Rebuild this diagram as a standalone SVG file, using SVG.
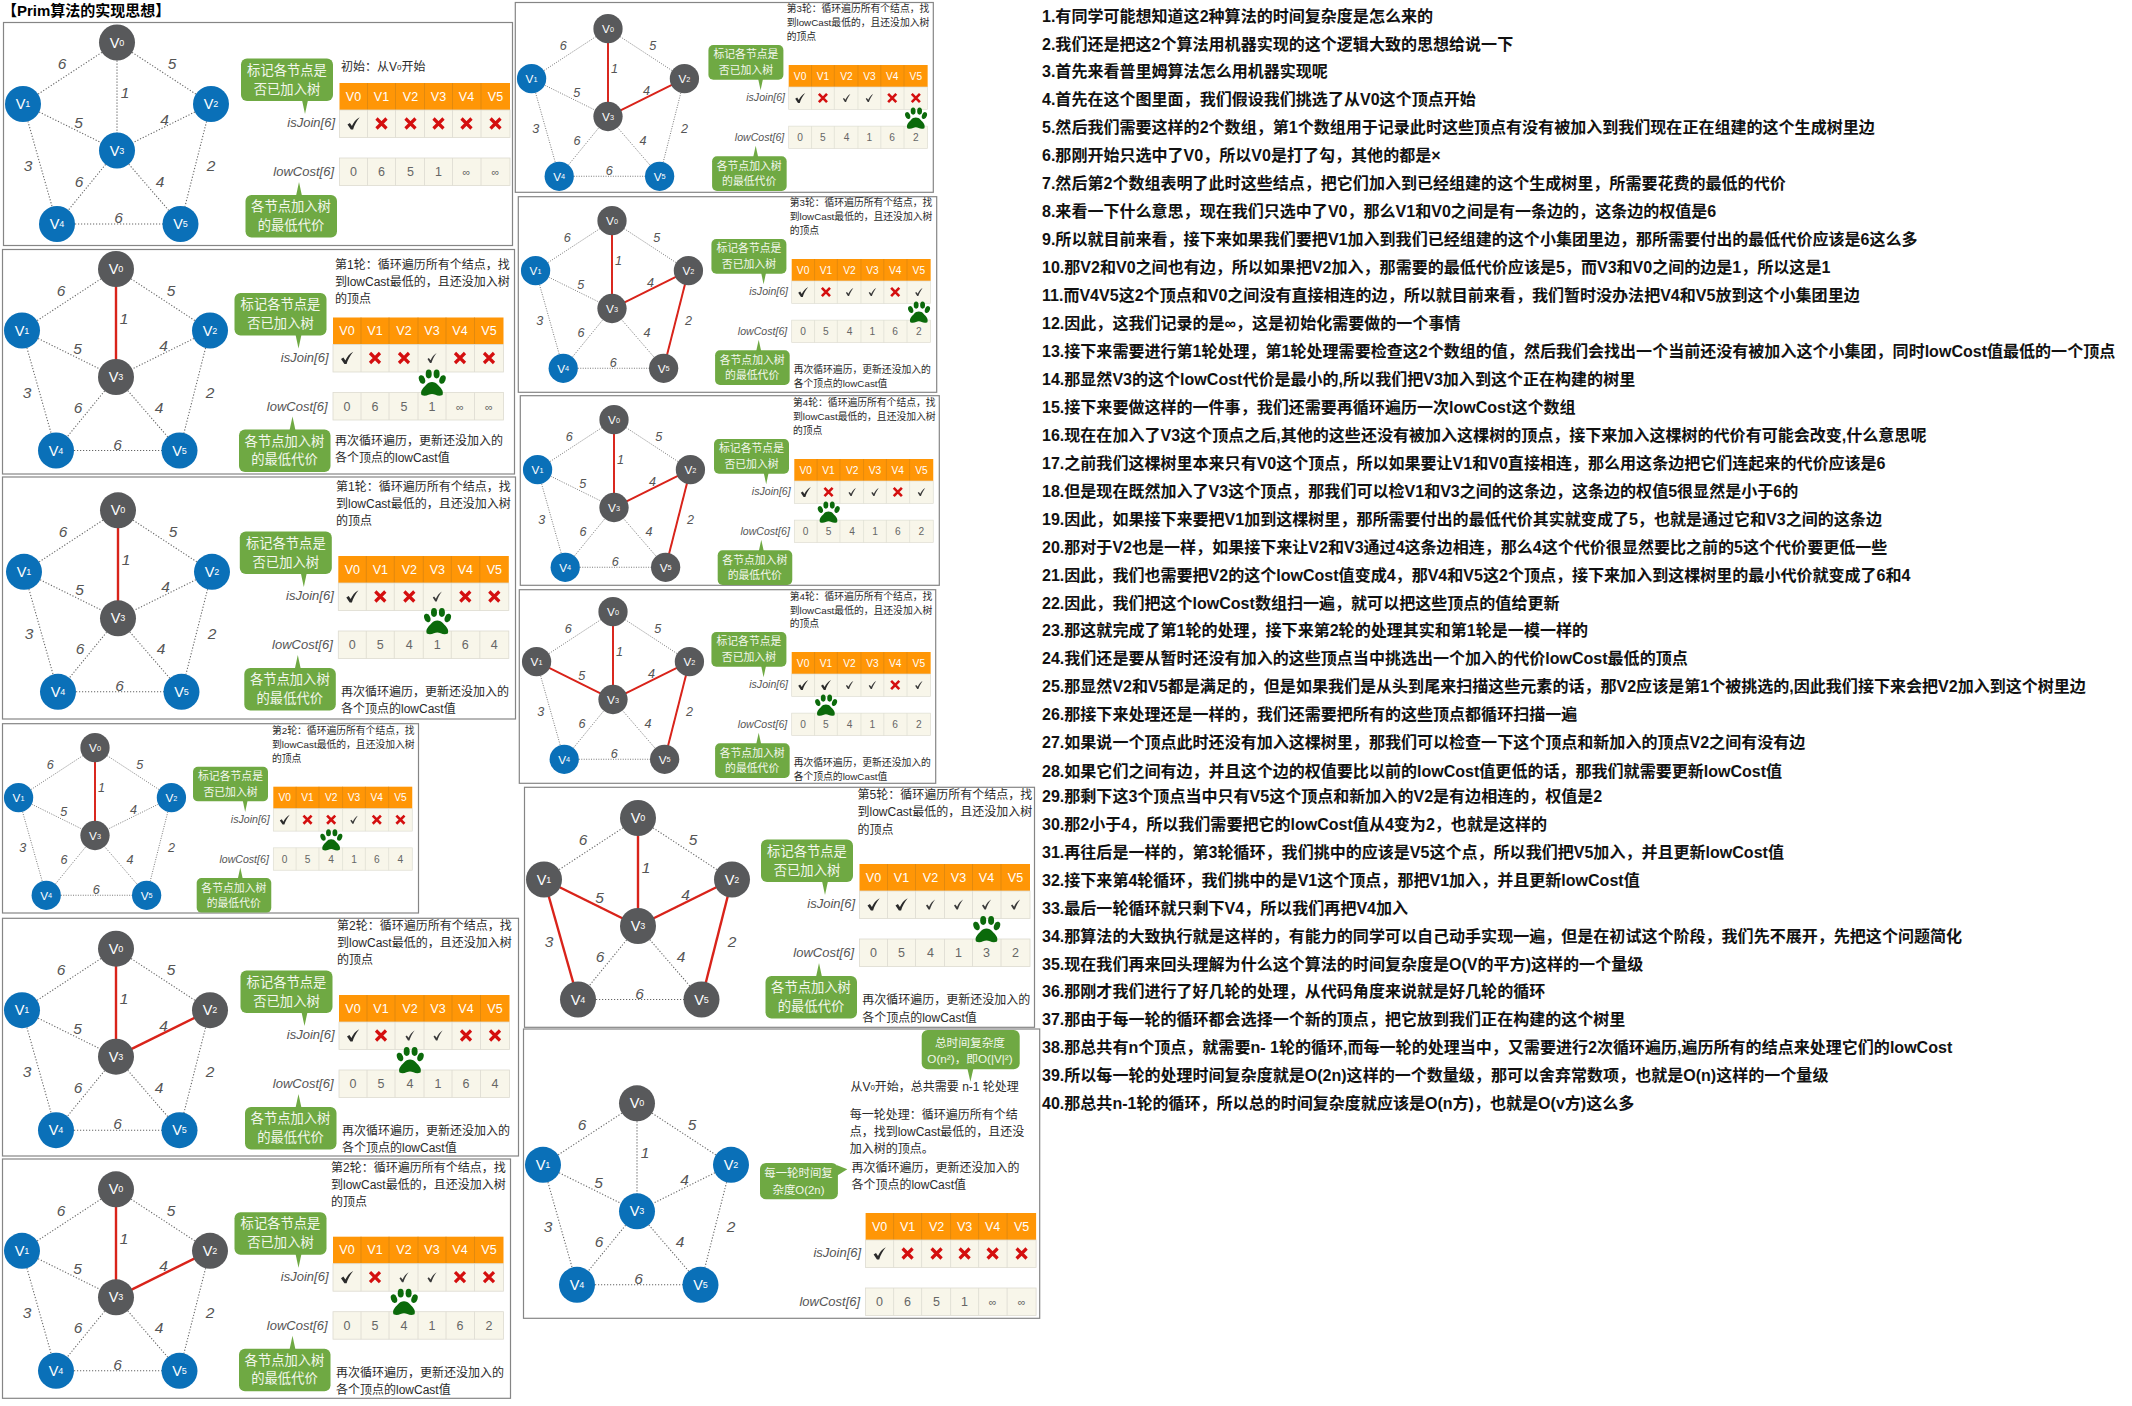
<svg xmlns="http://www.w3.org/2000/svg" width="2132" height="1406" viewBox="0 0 2132 1406">
<style>
text{font-family:"Liberation Sans","Noto Sans CJK SC",sans-serif;dominant-baseline:central;fill:#2a2a2a}
.fr{fill:#fff;stroke:#858585;stroke-width:1.2}
.cn line{stroke:#666;stroke-width:1.1;stroke-dasharray:1.2 1.8}
.r{stroke:#d9231a;stroke-width:2.4}
.wt text{font-size:15.5px;font-style:italic;text-anchor:middle;fill:#555}
.d{fill:#58595b}.b{fill:#0a70b8}
.n{font-size:14.5px;fill:#fff;text-anchor:middle}
.n tspan{font-size:9px}
.h text{font-size:12.5px;fill:#fff;text-anchor:middle}
.c text{font-size:12.5px;fill:#666;text-anchor:middle}
.c .i{font-size:11px}
.l{font-size:13px;font-style:italic;text-anchor:end;fill:#555}
.g{font-size:13.3px;fill:#f3f7ec;text-anchor:middle}
.t{font-size:12px}.ts{font-size:9.8px}
.o{fill:#ff9606}.w{fill:#f8f6ea;stroke:#dcdbd0;stroke-width:.8}
.gb{fill:#6fa943}
.m{font-size:16.05px;font-weight:700;fill:#111}
.v{font-size:8px}
</style>
<defs>
<g id="ed" class="cn"><line x1="0" y1="0" x2="-94" y2="61.5"/><line x1="0" y1="0" x2="94" y2="61.5"/><line x1="0" y1="0" x2="0" y2="108"/><line x1="-94" y1="61.5" x2="0" y2="108"/><line x1="94" y1="61.5" x2="0" y2="108"/><line x1="-94" y1="61.5" x2="-60" y2="181.5"/><line x1="94" y1="61.5" x2="63.5" y2="181.5"/><line x1="0" y1="108" x2="-60" y2="181.5"/><line x1="0" y1="108" x2="63.5" y2="181.5"/><line x1="-60" y1="181.5" x2="63.5" y2="181.5"/></g>
<line id="r03" class="r" x1="0" y1="0" x2="0" y2="108"/>
<line id="r23" class="r" x1="94" y1="61.5" x2="0" y2="108"/>
<line id="r25" class="r" x1="94" y1="61.5" x2="63.5" y2="181.5"/>
<line id="r13" class="r" x1="-94" y1="61.5" x2="0" y2="108"/>
<line id="r14" class="r" x1="-94" y1="61.5" x2="-60" y2="181.5"/>
<g id="tb"><rect class="o" x="0" y="0" width="170.5" height="27"/><path d="M28 0V27M56 0V27M85 0V27M113 0V27M141.5 0V27" stroke="#d98510" stroke-width=".8"/><rect class="w" x="0" y="27" width="170.5" height="27.5"/><rect class="w" x="0" y="75" width="170.5" height="27.5"/><path d="M28 27V54.5M56 27V54.5M85 27V54.5M113 27V54.5M141.5 27V54.5M28 75V102.5M56 75V102.5M85 75V102.5M113 75V102.5M141.5 75V102.5" stroke="#dcdbd0" stroke-width=".8"/></g>
<g id="bb"><rect class="gb" x="-98.5" y="-24.5" width="92" height="42.5" rx="6"/><path class="gb" d="M-37.5 17 L-34.5 31 L-31.5 17Z"/><rect class="gb" x="-94" y="112" width="91.5" height="42.5" rx="6"/><path class="gb" d="M-43.5 113 L-40.5 99 L-37.5 113Z"/></g>
<path id="C" fill="#2b2b2b" d="M-6 1 L-3.6 -.6 L-1.6 2.4 C0 -1 2.2 -4 6.2 -6.2 C3 -2 .6 2 -.4 6 L-2.6 6 Z"/>
<path id="k" fill="#3a3a3a" d="M-4.5 1 L-3.2 0 L-1.4 2.2 C0 -.8 1.8 -3.4 4.6 -5 C2.4 -2 .4 1.6 -.6 5 L-2 5 Z"/>
<path id="x" d="M-5 -5L5 5M5 -5L-5 5" stroke="#d40f0f" stroke-width="3.2" fill="none"/>
<g id="paw" fill="#0b6a0b"><path d="M-10.5 12 C-12 8 -9 5 -6 2 C-3 -2 3 -2 6 2 C9 5 12 8 10.5 12 C6 14 3 11 0 11 C-3 11 -6 14 -10.5 12Z"/><ellipse cx="-10" cy="-3.5" rx="3" ry="4.4" transform="rotate(-20 -10 -3.5)"/><ellipse cx="-3.3" cy="-9" rx="3" ry="4.4"/><ellipse cx="4.6" cy="-9" rx="3" ry="4.4"/><ellipse cx="10.5" cy="-3.5" rx="3" ry="4.4" transform="rotate(20 10.5 -3.5)"/></g>
</defs>
<rect width="2132" height="1406" fill="#fff"/>
<text x="2" y="10" font-size="15" font-weight="700" style="fill:#000">【Prim算法的实现思想】</text>

<g id="p1"><rect class="fr" x="3.5" y="22.5" width="509" height="223"/>
<g transform="translate(117 42.5)"><g id="p1e"><use href="#ed"/></g>
<g class="wt"><text x="-55" y="21">6</text><text x="55" y="21">5</text><text x="8" y="49.5">1</text><text x="-38.5" y="79.5">5</text><text x="47.5" y="76.5">4</text><text x="-89" y="123">3</text><text x="94" y="123">2</text><text x="-38" y="138.5">6</text><text x="43" y="138.5">4</text><text x="1.5" y="175">6</text></g>
<g id="p1v0"><circle class="d" r="18"/><text class="n">V<tspan>0</tspan></text></g>
<g id="p1v1" transform="translate(-94 61.5)"><circle class="b" r="18"/><text class="n">V<tspan>1</tspan></text></g>
<g id="p1v2" transform="translate(94 61.5)"><circle class="b" r="18"/><text class="n">V<tspan>2</tspan></text></g>
<g id="p1v3" transform="translate(0 108)"><circle class="b" r="18"/><text class="n">V<tspan>3</tspan></text></g>
<g id="p1v4" transform="translate(-60 181.5)"><circle class="b" r="18"/><text class="n">V<tspan>4</tspan></text></g>
<g id="p1v5" transform="translate(63.5 181.5)"><circle class="b" r="18"/><text class="n">V<tspan>5</tspan></text></g></g>
<g transform="translate(339.5 83)"><use href="#bb"/><use href="#tb"/>
<text class="g" x="-52.5" y="-13">标记各节点是</text><text class="g" x="-52.5" y="6">否已加入树</text><text class="g" x="-48.5" y="123.7">各节点加入树</text><text class="g" x="-48.5" y="142.3">的最低代价</text>
<text class="l" x="-4.5" y="39.5">isJoin[6]</text><text class="l" x="-5.5" y="88.5">lowCost[6]</text>
<g class="h" transform="translate(0 13.5)"><text x="14">V0</text><text x="42">V1</text><text x="71">V2</text><text x="99">V3</text><text x="127">V4</text><text x="156">V5</text></g>
<use href="#C" x="14" y="40.5"/><use href="#x" x="42" y="40.5"/><use href="#x" x="71" y="40.5"/><use href="#x" x="99" y="40.5"/><use href="#x" x="127" y="40.5"/><use href="#x" x="156" y="40.5"/>
<g class="c" transform="translate(0 89)"><text x="14">0</text><text x="42">6</text><text x="71">5</text><text x="99">1</text><text class="i" x="127">∞</text><text class="i" x="156">∞</text></g></g>
<text class="t" x="341" y="67">初始：从V<tspan class="v">0</tspan>开始</text></g>

<g id="p2"><rect class="fr" x="2.5" y="249.5" width="512" height="224.5"/>
<g transform="translate(116 269)"><g id="p2e"><use href="#ed"/><use href="#r03"/></g>
<g class="wt"><text x="-55" y="21">6</text><text x="55" y="21">5</text><text x="8" y="49.5">1</text><text x="-38.5" y="79.5">5</text><text x="47.5" y="76.5">4</text><text x="-89" y="123">3</text><text x="94" y="123">2</text><text x="-38" y="138.5">6</text><text x="43" y="138.5">4</text><text x="1.5" y="175">6</text></g>
<g id="p2v0"><circle class="d" r="18"/><text class="n">V<tspan>0</tspan></text></g>
<g id="p2v1" transform="translate(-94 61.5)"><circle class="b" r="18"/><text class="n">V<tspan>1</tspan></text></g>
<g id="p2v2" transform="translate(94 61.5)"><circle class="b" r="18"/><text class="n">V<tspan>2</tspan></text></g>
<g id="p2v3" transform="translate(0 108)"><circle class="d" r="18"/><text class="n">V<tspan>3</tspan></text></g>
<g id="p2v4" transform="translate(-60 181.5)"><circle class="b" r="18"/><text class="n">V<tspan>4</tspan></text></g>
<g id="p2v5" transform="translate(63.5 181.5)"><circle class="b" r="18"/><text class="n">V<tspan>5</tspan></text></g></g>
<g transform="translate(333 317.5)"><use href="#bb"/><use href="#tb"/>
<text class="g" x="-52.5" y="-13">标记各节点是</text><text class="g" x="-52.5" y="6">否已加入树</text><text class="g" x="-48.5" y="123.7">各节点加入树</text><text class="g" x="-48.5" y="142.3">的最低代价</text>
<text class="l" x="-4.5" y="39.5">isJoin[6]</text><text class="l" x="-5.5" y="88.5">lowCost[6]</text>
<g class="h" transform="translate(0 13.5)"><text x="14">V0</text><text x="42">V1</text><text x="71">V2</text><text x="99">V3</text><text x="127">V4</text><text x="156">V5</text></g>
<use href="#C" x="14" y="40.5"/><use href="#x" x="42" y="40.5"/><use href="#x" x="71" y="40.5"/><use href="#k" x="99" y="40.5"/><use href="#x" x="127" y="40.5"/><use href="#x" x="156" y="40.5"/>
<g class="c" transform="translate(0 89)"><text x="14">0</text><text x="42">6</text><text x="71">5</text><text x="99">1</text><text class="i" x="127">∞</text><text class="i" x="156">∞</text></g>
<use href="#paw" x="99" y="65.5"/></g>
<text class="t" x="335" y="264.5">第1轮：循环遍历所有个结点，找</text><text class="t" x="335" y="282">到lowCast最低的，且还没加入树</text><text class="t" x="335" y="299">的顶点</text><text class="t" x="335" y="441">再次循环遍历，更新还没加入的</text><text class="t" x="335" y="458">各个顶点的lowCast值</text></g>

<g id="p3"><rect class="fr" x="2.5" y="477" width="513" height="242"/>
<g transform="translate(118 510.3)"><g id="p3e"><use href="#ed"/><use href="#r03"/></g>
<g class="wt"><text x="-55" y="21">6</text><text x="55" y="21">5</text><text x="8" y="49.5">1</text><text x="-38.5" y="79.5">5</text><text x="47.5" y="76.5">4</text><text x="-89" y="123">3</text><text x="94" y="123">2</text><text x="-38" y="138.5">6</text><text x="43" y="138.5">4</text><text x="1.5" y="175">6</text></g>
<g id="p3v0"><circle class="d" r="18"/><text class="n">V<tspan>0</tspan></text></g>
<g id="p3v1" transform="translate(-94 61.5)"><circle class="b" r="18"/><text class="n">V<tspan>1</tspan></text></g>
<g id="p3v2" transform="translate(94 61.5)"><circle class="b" r="18"/><text class="n">V<tspan>2</tspan></text></g>
<g id="p3v3" transform="translate(0 108)"><circle class="d" r="18"/><text class="n">V<tspan>3</tspan></text></g>
<g id="p3v4" transform="translate(-60 181.5)"><circle class="b" r="18"/><text class="n">V<tspan>4</tspan></text></g>
<g id="p3v5" transform="translate(63.5 181.5)"><circle class="b" r="18"/><text class="n">V<tspan>5</tspan></text></g></g>
<g transform="translate(338.3 556)"><use href="#bb"/><use href="#tb"/>
<text class="g" x="-52.5" y="-13">标记各节点是</text><text class="g" x="-52.5" y="6">否已加入树</text><text class="g" x="-48.5" y="123.7">各节点加入树</text><text class="g" x="-48.5" y="142.3">的最低代价</text>
<text class="l" x="-4.5" y="39.5">isJoin[6]</text><text class="l" x="-5.5" y="88.5">lowCost[6]</text>
<g class="h" transform="translate(0 13.5)"><text x="14">V0</text><text x="42">V1</text><text x="71">V2</text><text x="99">V3</text><text x="127">V4</text><text x="156">V5</text></g>
<use href="#C" x="14" y="40.5"/><use href="#x" x="42" y="40.5"/><use href="#x" x="71" y="40.5"/><use href="#k" x="99" y="40.5"/><use href="#x" x="127" y="40.5"/><use href="#x" x="156" y="40.5"/>
<g class="c" transform="translate(0 89)"><text x="14">0</text><text x="42">5</text><text x="71">4</text><text x="99">1</text><text x="127">6</text><text x="156">4</text></g>
<use href="#paw" x="99" y="65.5"/></g>
<text class="t" x="336" y="486.7">第1轮：循环遍历所有个结点，找</text><text class="t" x="336" y="503.5">到lowCast最低的，且还没加入树</text><text class="t" x="336" y="521">的顶点</text><text class="t" x="341" y="692">再次循环遍历，更新还没加入的</text><text class="t" x="341" y="709">各个顶点的lowCast值</text></g>

<g id="p4"><rect class="fr" x="2.5" y="723.7" width="416" height="189.3"/>
<g transform="translate(95 747.7) scale(.813)"><g id="p4e"><use href="#ed"/><use href="#r03"/></g>
<g class="wt"><text x="-55" y="21">6</text><text x="55" y="21">5</text><text x="8" y="49.5">1</text><text x="-38.5" y="79.5">5</text><text x="47.5" y="76.5">4</text><text x="-89" y="123">3</text><text x="94" y="123">2</text><text x="-38" y="138.5">6</text><text x="43" y="138.5">4</text><text x="1.5" y="175">6</text></g>
<g id="p4v0"><circle class="d" r="18"/><text class="n">V<tspan>0</tspan></text></g>
<g id="p4v1" transform="translate(-94 61.5)"><circle class="b" r="18"/><text class="n">V<tspan>1</tspan></text></g>
<g id="p4v2" transform="translate(94 61.5)"><circle class="b" r="18"/><text class="n">V<tspan>2</tspan></text></g>
<g id="p4v3" transform="translate(0 108)"><circle class="d" r="18"/><text class="n">V<tspan>3</tspan></text></g>
<g id="p4v4" transform="translate(-60 181.5)"><circle class="b" r="18"/><text class="n">V<tspan>4</tspan></text></g>
<g id="p4v5" transform="translate(63.5 181.5)"><circle class="b" r="18"/><text class="n">V<tspan>5</tspan></text></g></g>
<g transform="translate(273.3 786.7) scale(.815)"><use href="#bb"/><use href="#tb"/>
<text class="g" x="-52.5" y="-13">标记各节点是</text><text class="g" x="-52.5" y="6">否已加入树</text><text class="g" x="-48.5" y="123.7">各节点加入树</text><text class="g" x="-48.5" y="142.3">的最低代价</text>
<text class="l" x="-4.5" y="39.5">isJoin[6]</text><text class="l" x="-5.5" y="88.5">lowCost[6]</text>
<g class="h" transform="translate(0 13.5)"><text x="14">V0</text><text x="42">V1</text><text x="71">V2</text><text x="99">V3</text><text x="127">V4</text><text x="156">V5</text></g>
<use href="#C" x="14" y="40.5"/><use href="#x" x="42" y="40.5"/><use href="#x" x="71" y="40.5"/><use href="#k" x="99" y="40.5"/><use href="#x" x="127" y="40.5"/><use href="#x" x="156" y="40.5"/>
<g class="c" transform="translate(0 89)"><text x="14">0</text><text x="42">5</text><text x="71">4</text><text x="99">1</text><text x="127">6</text><text x="156">4</text></g>
<use href="#paw" x="71" y="65.5"/></g>
<text class="ts" x="272" y="730.7">第2轮：循环遍历所有个结点，找</text><text class="ts" x="272" y="744.7">到lowCast最低的，且还没加入树</text><text class="ts" x="272" y="758.7">的顶点</text></g>

<g id="p5"><rect class="fr" x="2.5" y="918.3" width="516" height="237.7"/>
<g transform="translate(116 948.7)"><g id="p5e"><use href="#ed"/><use href="#r03"/><use href="#r23"/></g>
<g class="wt"><text x="-55" y="21">6</text><text x="55" y="21">5</text><text x="8" y="49.5">1</text><text x="-38.5" y="79.5">5</text><text x="47.5" y="76.5">4</text><text x="-89" y="123">3</text><text x="94" y="123">2</text><text x="-38" y="138.5">6</text><text x="43" y="138.5">4</text><text x="1.5" y="175">6</text></g>
<g id="p5v0"><circle class="d" r="18"/><text class="n">V<tspan>0</tspan></text></g>
<g id="p5v1" transform="translate(-94 61.5)"><circle class="b" r="18"/><text class="n">V<tspan>1</tspan></text></g>
<g id="p5v2" transform="translate(94 61.5)"><circle class="d" r="18"/><text class="n">V<tspan>2</tspan></text></g>
<g id="p5v3" transform="translate(0 108)"><circle class="d" r="18"/><text class="n">V<tspan>3</tspan></text></g>
<g id="p5v4" transform="translate(-60 181.5)"><circle class="b" r="18"/><text class="n">V<tspan>4</tspan></text></g>
<g id="p5v5" transform="translate(63.5 181.5)"><circle class="b" r="18"/><text class="n">V<tspan>5</tspan></text></g></g>
<g transform="translate(339 995)"><use href="#bb"/><use href="#tb"/>
<text class="g" x="-52.5" y="-13">标记各节点是</text><text class="g" x="-52.5" y="6">否已加入树</text><text class="g" x="-48.5" y="123.7">各节点加入树</text><text class="g" x="-48.5" y="142.3">的最低代价</text>
<text class="l" x="-4.5" y="39.5">isJoin[6]</text><text class="l" x="-5.5" y="88.5">lowCost[6]</text>
<g class="h" transform="translate(0 13.5)"><text x="14">V0</text><text x="42">V1</text><text x="71">V2</text><text x="99">V3</text><text x="127">V4</text><text x="156">V5</text></g>
<use href="#C" x="14" y="40.5"/><use href="#x" x="42" y="40.5"/><use href="#k" x="71" y="40.5"/><use href="#k" x="99" y="40.5"/><use href="#x" x="127" y="40.5"/><use href="#x" x="156" y="40.5"/>
<g class="c" transform="translate(0 89)"><text x="14">0</text><text x="42">5</text><text x="71">4</text><text x="99">1</text><text x="127">6</text><text x="156">4</text></g>
<use href="#paw" x="71" y="65.5"/></g>
<text class="t" x="337" y="925.7">第2轮：循环遍历所有个结点，找</text><text class="t" x="337" y="943">到lowCast最低的，且还没加入树</text><text class="t" x="337" y="960">的顶点</text><text class="t" x="342" y="1131">再次循环遍历，更新还没加入的</text><text class="t" x="342" y="1148">各个顶点的lowCast值</text></g>

<g id="p6"><rect class="fr" x="2.5" y="1159" width="508" height="239.3"/>
<g transform="translate(116 1189.3)"><g id="p6e"><use href="#ed"/><use href="#r03"/><use href="#r23"/></g>
<g class="wt"><text x="-55" y="21">6</text><text x="55" y="21">5</text><text x="8" y="49.5">1</text><text x="-38.5" y="79.5">5</text><text x="47.5" y="76.5">4</text><text x="-89" y="123">3</text><text x="94" y="123">2</text><text x="-38" y="138.5">6</text><text x="43" y="138.5">4</text><text x="1.5" y="175">6</text></g>
<g id="p6v0"><circle class="d" r="18"/><text class="n">V<tspan>0</tspan></text></g>
<g id="p6v1" transform="translate(-94 61.5)"><circle class="b" r="18"/><text class="n">V<tspan>1</tspan></text></g>
<g id="p6v2" transform="translate(94 61.5)"><circle class="d" r="18"/><text class="n">V<tspan>2</tspan></text></g>
<g id="p6v3" transform="translate(0 108)"><circle class="d" r="18"/><text class="n">V<tspan>3</tspan></text></g>
<g id="p6v4" transform="translate(-60 181.5)"><circle class="b" r="18"/><text class="n">V<tspan>4</tspan></text></g>
<g id="p6v5" transform="translate(63.5 181.5)"><circle class="b" r="18"/><text class="n">V<tspan>5</tspan></text></g></g>
<g transform="translate(333 1236.7)"><use href="#bb"/><use href="#tb"/>
<text class="g" x="-52.5" y="-13">标记各节点是</text><text class="g" x="-52.5" y="6">否已加入树</text><text class="g" x="-48.5" y="123.7">各节点加入树</text><text class="g" x="-48.5" y="142.3">的最低代价</text>
<text class="l" x="-4.5" y="39.5">isJoin[6]</text><text class="l" x="-5.5" y="88.5">lowCost[6]</text>
<g class="h" transform="translate(0 13.5)"><text x="14">V0</text><text x="42">V1</text><text x="71">V2</text><text x="99">V3</text><text x="127">V4</text><text x="156">V5</text></g>
<use href="#C" x="14" y="40.5"/><use href="#x" x="42" y="40.5"/><use href="#k" x="71" y="40.5"/><use href="#k" x="99" y="40.5"/><use href="#x" x="127" y="40.5"/><use href="#x" x="156" y="40.5"/>
<g class="c" transform="translate(0 89)"><text x="14">0</text><text x="42">5</text><text x="71">4</text><text x="99">1</text><text x="127">6</text><text x="156">2</text></g>
<use href="#paw" x="71" y="65.5"/></g>
<text class="t" x="331" y="1167.7">第2轮：循环遍历所有个结点，找</text><text class="t" x="331" y="1185">到lowCast最低的，且还没加入树</text><text class="t" x="331" y="1202">的顶点</text><text class="t" x="336" y="1373.3">再次循环遍历，更新还没加入的</text><text class="t" x="336" y="1390">各个顶点的lowCast值</text></g>

<g id="p7"><rect class="fr" x="515.3" y="2.5" width="418" height="189.8"/>
<g transform="translate(608 28.7) scale(.813)"><g id="p7e"><use href="#ed"/><use href="#r03"/><use href="#r23"/></g>
<g class="wt"><text x="-55" y="21">6</text><text x="55" y="21">5</text><text x="8" y="49.5">1</text><text x="-38.5" y="79.5">5</text><text x="47.5" y="76.5">4</text><text x="-89" y="123">3</text><text x="94" y="123">2</text><text x="-38" y="138.5">6</text><text x="43" y="138.5">4</text><text x="1.5" y="175">6</text></g>
<g id="p7v0"><circle class="d" r="18"/><text class="n">V<tspan>0</tspan></text></g>
<g id="p7v1" transform="translate(-94 61.5)"><circle class="b" r="18"/><text class="n">V<tspan>1</tspan></text></g>
<g id="p7v2" transform="translate(94 61.5)"><circle class="d" r="18"/><text class="n">V<tspan>2</tspan></text></g>
<g id="p7v3" transform="translate(0 108)"><circle class="d" r="18"/><text class="n">V<tspan>3</tspan></text></g>
<g id="p7v4" transform="translate(-60 181.5)"><circle class="b" r="18"/><text class="n">V<tspan>4</tspan></text></g>
<g id="p7v5" transform="translate(63.5 181.5)"><circle class="b" r="18"/><text class="n">V<tspan>5</tspan></text></g></g>
<g transform="translate(788.7 65) scale(.815)"><use href="#bb"/><use href="#tb"/>
<text class="g" x="-52.5" y="-13">标记各节点是</text><text class="g" x="-52.5" y="6">否已加入树</text><text class="g" x="-48.5" y="123.7">各节点加入树</text><text class="g" x="-48.5" y="142.3">的最低代价</text>
<text class="l" x="-4.5" y="39.5">isJoin[6]</text><text class="l" x="-5.5" y="88.5">lowCost[6]</text>
<g class="h" transform="translate(0 13.5)"><text x="14">V0</text><text x="42">V1</text><text x="71">V2</text><text x="99">V3</text><text x="127">V4</text><text x="156">V5</text></g>
<use href="#C" x="14" y="40.5"/><use href="#x" x="42" y="40.5"/><use href="#k" x="71" y="40.5"/><use href="#k" x="99" y="40.5"/><use href="#x" x="127" y="40.5"/><use href="#x" x="156" y="40.5"/>
<g class="c" transform="translate(0 89)"><text x="14">0</text><text x="42">5</text><text x="71">4</text><text x="99">1</text><text x="127">6</text><text x="156">2</text></g>
<use href="#paw" x="156" y="65.5"/></g>
<text class="ts" x="786.7" y="8.7">第3轮：循环遍历所有个结点，找</text><text class="ts" x="786.7" y="22.7">到lowCast最低的，且还没加入树</text><text class="ts" x="786.7" y="36.7">的顶点</text></g>

<g id="p8"><rect class="fr" x="518.3" y="196.7" width="418.4" height="195.6"/>
<g transform="translate(612 220.7) scale(.813)"><g id="p8e"><use href="#ed"/><use href="#r03"/><use href="#r23"/><use href="#r25"/></g>
<g class="wt"><text x="-55" y="21">6</text><text x="55" y="21">5</text><text x="8" y="49.5">1</text><text x="-38.5" y="79.5">5</text><text x="47.5" y="76.5">4</text><text x="-89" y="123">3</text><text x="94" y="123">2</text><text x="-38" y="138.5">6</text><text x="43" y="138.5">4</text><text x="1.5" y="175">6</text></g>
<g id="p8v0"><circle class="d" r="18"/><text class="n">V<tspan>0</tspan></text></g>
<g id="p8v1" transform="translate(-94 61.5)"><circle class="b" r="18"/><text class="n">V<tspan>1</tspan></text></g>
<g id="p8v2" transform="translate(94 61.5)"><circle class="d" r="18"/><text class="n">V<tspan>2</tspan></text></g>
<g id="p8v3" transform="translate(0 108)"><circle class="d" r="18"/><text class="n">V<tspan>3</tspan></text></g>
<g id="p8v4" transform="translate(-60 181.5)"><circle class="b" r="18"/><text class="n">V<tspan>4</tspan></text></g>
<g id="p8v5" transform="translate(63.5 181.5)"><circle class="d" r="18"/><text class="n">V<tspan>5</tspan></text></g></g>
<g transform="translate(791.7 259) scale(.815)"><use href="#bb"/><use href="#tb"/>
<text class="g" x="-52.5" y="-13">标记各节点是</text><text class="g" x="-52.5" y="6">否已加入树</text><text class="g" x="-48.5" y="123.7">各节点加入树</text><text class="g" x="-48.5" y="142.3">的最低代价</text>
<text class="l" x="-4.5" y="39.5">isJoin[6]</text><text class="l" x="-5.5" y="88.5">lowCost[6]</text>
<g class="h" transform="translate(0 13.5)"><text x="14">V0</text><text x="42">V1</text><text x="71">V2</text><text x="99">V3</text><text x="127">V4</text><text x="156">V5</text></g>
<use href="#C" x="14" y="40.5"/><use href="#x" x="42" y="40.5"/><use href="#k" x="71" y="40.5"/><use href="#k" x="99" y="40.5"/><use href="#x" x="127" y="40.5"/><use href="#k" x="156" y="40.5"/>
<g class="c" transform="translate(0 89)"><text x="14">0</text><text x="42">5</text><text x="71">4</text><text x="99">1</text><text x="127">6</text><text x="156">2</text></g>
<use href="#paw" x="156" y="65.5"/></g>
<text class="ts" x="789.7" y="202.7">第3轮：循环遍历所有个结点，找</text><text class="ts" x="789.7" y="216.7">到lowCast最低的，且还没加入树</text><text class="ts" x="789.7" y="230.7">的顶点</text><text class="ts" x="793.7" y="369.3">再次循环遍历，更新还没加入的</text><text class="ts" x="793.7" y="383.3">各个顶点的lowCast值</text></g>

<g id="p9"><rect class="fr" x="520.3" y="395.7" width="419" height="189.6"/>
<g transform="translate(614 419.7) scale(.813)"><g id="p9e"><use href="#ed"/><use href="#r03"/><use href="#r23"/><use href="#r25"/></g>
<g class="wt"><text x="-55" y="21">6</text><text x="55" y="21">5</text><text x="8" y="49.5">1</text><text x="-38.5" y="79.5">5</text><text x="47.5" y="76.5">4</text><text x="-89" y="123">3</text><text x="94" y="123">2</text><text x="-38" y="138.5">6</text><text x="43" y="138.5">4</text><text x="1.5" y="175">6</text></g>
<g id="p9v0"><circle class="d" r="18"/><text class="n">V<tspan>0</tspan></text></g>
<g id="p9v1" transform="translate(-94 61.5)"><circle class="b" r="18"/><text class="n">V<tspan>1</tspan></text></g>
<g id="p9v2" transform="translate(94 61.5)"><circle class="d" r="18"/><text class="n">V<tspan>2</tspan></text></g>
<g id="p9v3" transform="translate(0 108)"><circle class="d" r="18"/><text class="n">V<tspan>3</tspan></text></g>
<g id="p9v4" transform="translate(-60 181.5)"><circle class="b" r="18"/><text class="n">V<tspan>4</tspan></text></g>
<g id="p9v5" transform="translate(63.5 181.5)"><circle class="d" r="18"/><text class="n">V<tspan>5</tspan></text></g></g>
<g transform="translate(794.3 459) scale(.815)"><use href="#bb"/><use href="#tb"/>
<text class="g" x="-52.5" y="-13">标记各节点是</text><text class="g" x="-52.5" y="6">否已加入树</text><text class="g" x="-48.5" y="123.7">各节点加入树</text><text class="g" x="-48.5" y="142.3">的最低代价</text>
<text class="l" x="-4.5" y="39.5">isJoin[6]</text><text class="l" x="-5.5" y="88.5">lowCost[6]</text>
<g class="h" transform="translate(0 13.5)"><text x="14">V0</text><text x="42">V1</text><text x="71">V2</text><text x="99">V3</text><text x="127">V4</text><text x="156">V5</text></g>
<use href="#C" x="14" y="40.5"/><use href="#x" x="42" y="40.5"/><use href="#k" x="71" y="40.5"/><use href="#k" x="99" y="40.5"/><use href="#x" x="127" y="40.5"/><use href="#k" x="156" y="40.5"/>
<g class="c" transform="translate(0 89)"><text x="14">0</text><text x="42">5</text><text x="71">4</text><text x="99">1</text><text x="127">6</text><text x="156">2</text></g>
<use href="#paw" x="42" y="65.5"/></g>
<text class="ts" x="793" y="402.7">第4轮：循环遍历所有个结点，找</text><text class="ts" x="793" y="416.7">到lowCast最低的，且还没加入树</text><text class="ts" x="793" y="430.7">的顶点</text></g>

<g id="p10"><rect class="fr" x="519.3" y="589.7" width="416.4" height="193.6"/>
<g transform="translate(613 611.7) scale(.813)"><g id="p10e"><use href="#ed"/><use href="#r03"/><use href="#r23"/><use href="#r25"/><use href="#r13"/></g>
<g class="wt"><text x="-55" y="21">6</text><text x="55" y="21">5</text><text x="8" y="49.5">1</text><text x="-38.5" y="79.5">5</text><text x="47.5" y="76.5">4</text><text x="-89" y="123">3</text><text x="94" y="123">2</text><text x="-38" y="138.5">6</text><text x="43" y="138.5">4</text><text x="1.5" y="175">6</text></g>
<g id="p10v0"><circle class="d" r="18"/><text class="n">V<tspan>0</tspan></text></g>
<g id="p10v1" transform="translate(-94 61.5)"><circle class="d" r="18"/><text class="n">V<tspan>1</tspan></text></g>
<g id="p10v2" transform="translate(94 61.5)"><circle class="d" r="18"/><text class="n">V<tspan>2</tspan></text></g>
<g id="p10v3" transform="translate(0 108)"><circle class="d" r="18"/><text class="n">V<tspan>3</tspan></text></g>
<g id="p10v4" transform="translate(-60 181.5)"><circle class="b" r="18"/><text class="n">V<tspan>4</tspan></text></g>
<g id="p10v5" transform="translate(63.5 181.5)"><circle class="d" r="18"/><text class="n">V<tspan>5</tspan></text></g></g>
<g transform="translate(791.7 652) scale(.815)"><use href="#bb"/><use href="#tb"/>
<text class="g" x="-52.5" y="-13">标记各节点是</text><text class="g" x="-52.5" y="6">否已加入树</text><text class="g" x="-48.5" y="123.7">各节点加入树</text><text class="g" x="-48.5" y="142.3">的最低代价</text>
<text class="l" x="-4.5" y="39.5">isJoin[6]</text><text class="l" x="-5.5" y="88.5">lowCost[6]</text>
<g class="h" transform="translate(0 13.5)"><text x="14">V0</text><text x="42">V1</text><text x="71">V2</text><text x="99">V3</text><text x="127">V4</text><text x="156">V5</text></g>
<use href="#C" x="14" y="40.5"/><use href="#C" x="42" y="40.5"/><use href="#k" x="71" y="40.5"/><use href="#k" x="99" y="40.5"/><use href="#x" x="127" y="40.5"/><use href="#k" x="156" y="40.5"/>
<g class="c" transform="translate(0 89)"><text x="14">0</text><text x="42">5</text><text x="71">4</text><text x="99">1</text><text x="127">6</text><text x="156">2</text></g>
<use href="#paw" x="42" y="65.5"/></g>
<text class="ts" x="789.7" y="596">第4轮：循环遍历所有个结点，找</text><text class="ts" x="789.7" y="610">到lowCast最低的，且还没加入树</text><text class="ts" x="789.7" y="623.5">的顶点</text><text class="ts" x="793.7" y="762.7">再次循环遍历，更新还没加入的</text><text class="ts" x="793.7" y="776.7">各个顶点的lowCast值</text></g>

<g id="p11"><rect class="fr" x="524.5" y="787.3" width="510" height="240"/>
<g transform="translate(638 818)"><g id="p11e"><use href="#ed"/><use href="#r03"/><use href="#r23"/><use href="#r25"/><use href="#r13"/><use href="#r14"/></g>
<g class="wt"><text x="-55" y="21">6</text><text x="55" y="21">5</text><text x="8" y="49.5">1</text><text x="-38.5" y="79.5">5</text><text x="47.5" y="76.5">4</text><text x="-89" y="123">3</text><text x="94" y="123">2</text><text x="-38" y="138.5">6</text><text x="43" y="138.5">4</text><text x="1.5" y="175">6</text></g>
<g id="p11v0"><circle class="d" r="18"/><text class="n">V<tspan>0</tspan></text></g>
<g id="p11v1" transform="translate(-94 61.5)"><circle class="d" r="18"/><text class="n">V<tspan>1</tspan></text></g>
<g id="p11v2" transform="translate(94 61.5)"><circle class="d" r="18"/><text class="n">V<tspan>2</tspan></text></g>
<g id="p11v3" transform="translate(0 108)"><circle class="d" r="18"/><text class="n">V<tspan>3</tspan></text></g>
<g id="p11v4" transform="translate(-60 181.5)"><circle class="d" r="18"/><text class="n">V<tspan>4</tspan></text></g>
<g id="p11v5" transform="translate(63.5 181.5)"><circle class="d" r="18"/><text class="n">V<tspan>5</tspan></text></g></g>
<g transform="translate(859.5 864)"><use href="#bb"/><use href="#tb"/>
<text class="g" x="-52.5" y="-13">标记各节点是</text><text class="g" x="-52.5" y="6">否已加入树</text><text class="g" x="-48.5" y="123.7">各节点加入树</text><text class="g" x="-48.5" y="142.3">的最低代价</text>
<text class="l" x="-4.5" y="39.5">isJoin[6]</text><text class="l" x="-5.5" y="88.5">lowCost[6]</text>
<g class="h" transform="translate(0 13.5)"><text x="14">V0</text><text x="42">V1</text><text x="71">V2</text><text x="99">V3</text><text x="127">V4</text><text x="156">V5</text></g>
<use href="#C" x="14" y="40.5"/><use href="#C" x="42" y="40.5"/><use href="#k" x="71" y="40.5"/><use href="#k" x="99" y="40.5"/><use href="#k" x="127" y="40.5"/><use href="#k" x="156" y="40.5"/>
<g class="c" transform="translate(0 89)"><text x="14">0</text><text x="42">5</text><text x="71">4</text><text x="99">1</text><text x="127">3</text><text x="156">2</text></g>
<use href="#paw" x="127" y="65.5"/></g>
<text class="t" x="857.5" y="795">第5轮：循环遍历所有个结点，找</text><text class="t" x="857.5" y="812">到lowCast最低的，且还没加入树</text><text class="t" x="857.5" y="829.7">的顶点</text><text class="t" x="862.2" y="1000.3">再次循环遍历，更新还没加入的</text><text class="t" x="862.2" y="1017.7">各个顶点的lowCast值</text></g>

<g id="p12"><rect class="fr" x="523.5" y="1029" width="516.2" height="289.3"/>
<g transform="translate(637 1103.3)"><g id="p12e"><use href="#ed"/></g>
<g class="wt"><text x="-55" y="21">6</text><text x="55" y="21">5</text><text x="8" y="49.5">1</text><text x="-38.5" y="79.5">5</text><text x="47.5" y="76.5">4</text><text x="-89" y="123">3</text><text x="94" y="123">2</text><text x="-38" y="138.5">6</text><text x="43" y="138.5">4</text><text x="1.5" y="175">6</text></g>
<g id="p12v0"><circle class="d" r="18"/><text class="n">V<tspan>0</tspan></text></g>
<g id="p12v1" transform="translate(-94 61.5)"><circle class="b" r="18"/><text class="n">V<tspan>1</tspan></text></g>
<g id="p12v2" transform="translate(94 61.5)"><circle class="b" r="18"/><text class="n">V<tspan>2</tspan></text></g>
<g id="p12v3" transform="translate(0 108)"><circle class="b" r="18"/><text class="n">V<tspan>3</tspan></text></g>
<g id="p12v4" transform="translate(-60 181.5)"><circle class="b" r="18"/><text class="n">V<tspan>4</tspan></text></g>
<g id="p12v5" transform="translate(63.5 181.5)"><circle class="b" r="18"/><text class="n">V<tspan>5</tspan></text></g></g>
<g transform="translate(865.6 1213)"><use href="#tb"/>
<text class="l" x="-4.5" y="39.5">isJoin[6]</text><text class="l" x="-5.5" y="88.5">lowCost[6]</text>
<g class="h" transform="translate(0 13.5)"><text x="14">V0</text><text x="42">V1</text><text x="71">V2</text><text x="99">V3</text><text x="127">V4</text><text x="156">V5</text></g>
<use href="#C" x="14" y="40.5"/><use href="#x" x="42" y="40.5"/><use href="#x" x="71" y="40.5"/><use href="#x" x="99" y="40.5"/><use href="#x" x="127" y="40.5"/><use href="#x" x="156" y="40.5"/>
<g class="c" transform="translate(0 89)"><text x="14">0</text><text x="42">6</text><text x="71">5</text><text x="99">1</text><text class="i" x="127">∞</text><text class="i" x="156">∞</text></g></g>
<rect class="gb" x="921.7" y="1030" width="98" height="39.3" rx="6"/><path class="gb" d="M967.4 1068.5 L970.4 1081.7 L973.4 1068.5Z"/>
<rect class="gb" x="760" y="1163" width="77.9" height="36.3" rx="6"/><path class="gb" d="M836.5 1165 L847.3 1169.3 L836.5 1176Z"/>
<text class="g" style="font-size:11.7px" x="970" y="1042">总时间复杂度</text><text class="g" style="font-size:11.7px" x="970" y="1058.7">O(n²)，即O(|V|²)</text>
<text class="g" style="font-size:11.4px" x="798.5" y="1173.3">每一轮时间复</text><text class="g" style="font-size:11.4px" x="798.5" y="1189.7">杂度O(2n)</text>
<text class="t" x="850.4" y="1087.3">从V<tspan class="v">0</tspan>开始，总共需要 n-1 轮处理</text>
<text class="t" x="849.7" y="1115.3">每一轮处理：循环遍历所有个结</text><text class="t" x="849.7" y="1132.3">点，找到lowCast最低的，且还没</text><text class="t" x="849.7" y="1149.3">加入树的顶点。</text><text class="t" x="851.4" y="1167.7">再次循环遍历，更新还没加入的</text><text class="t" x="851.4" y="1184.7">各个顶点的lowCast值</text></g>

<g id="notes">
<text class="m" x="1042" y="15.5">1.有同学可能想知道这2种算法的时间复杂度是怎么来的</text>
<text class="m" x="1042" y="43.5">2.我们还是把这2个算法用机器实现的这个逻辑大致的思想给说一下</text>
<text class="m" x="1042" y="71.4">3.首先来看普里姆算法怎么用机器实现呢</text>
<text class="m" x="1042" y="99.4">4.首先在这个图里面，我们假设我们挑选了从V0这个顶点开始</text>
<text class="m" x="1042" y="127.3">5.然后我们需要这样的2个数组，第1个数组用于记录此时这些顶点有没有被加入到我们现在正在组建的这个生成树里边</text>
<text class="m" x="1042" y="155.3">6.那刚开始只选中了V0，所以V0是打了勾，其他的都是×</text>
<text class="m" x="1042" y="183.2">7.然后第2个数组表明了此时这些结点，把它们加入到已经组建的这个生成树里，所需要花费的最低的代价</text>
<text class="m" x="1042" y="211.2">8.来看一下什么意思，现在我们只选中了V0，那么V1和V0之间是有一条边的，这条边的权值是6</text>
<text class="m" x="1042" y="239.1">9.所以就目前来看，接下来如果我们要把V1加入到我们已经组建的这个小集团里边，那所需要付出的最低代价应该是6这么多</text>
<text class="m" x="1042" y="267.1">10.那V2和V0之间也有边，所以如果把V2加入，那需要的最低代价应该是5，而V3和V0之间的边是1，所以这是1</text>
<text class="m" x="1042" y="295">11.而V4V5这2个顶点和V0之间没有直接相连的边，所以就目前来看，我们暂时没办法把V4和V5放到这个小集团里边</text>
<text class="m" x="1042" y="323">12.因此，这我们记录的是∞，这是初始化需要做的一个事情</text>
<text class="m" x="1042" y="350.9">13.接下来需要进行第1轮处理，第1轮处理需要检查这2个数组的值，然后我们会找出一个当前还没有被加入这个小集团，同时lowCost值最低的一个顶点</text>
<text class="m" x="1042" y="378.9">14.那显然V3的这个lowCost代价是最小的,所以我们把V3加入到这个正在构建的树里</text>
<text class="m" x="1042" y="406.8">15.接下来要做这样的一件事，我们还需要再循环遍历一次lowCost这个数组</text>
<text class="m" x="1042" y="434.8">16.现在在加入了V3这个顶点之后,其他的这些还没有被加入这棵树的顶点，接下来加入这棵树的代价有可能会改变,什么意思呢</text>
<text class="m" x="1042" y="462.7">17.之前我们这棵树里本来只有V0这个顶点，所以如果要让V1和V0直接相连，那么用这条边把它们连起来的代价应该是6</text>
<text class="m" x="1042" y="490.7">18.但是现在既然加入了V3这个顶点，那我们可以检V1和V3之间的这条边，这条边的权值5很显然是小于6的</text>
<text class="m" x="1042" y="518.6">19.因此，如果接下来要把V1加到这棵树里，那所需要付出的最低代价其实就变成了5，也就是通过它和V3之间的这条边</text>
<text class="m" x="1042" y="546.6">20.那对于V2也是一样，如果接下来让V2和V3通过4这条边相连，那么4这个代价很显然要比之前的5这个代价要更低一些</text>
<text class="m" x="1042" y="574.5">21.因此，我们也需要把V2的这个lowCost值变成4，那V4和V5这2个顶点，接下来加入到这棵树里的最小代价就变成了6和4</text>
<text class="m" x="1042" y="602.5">22.因此，我们把这个lowCost数组扫一遍，就可以把这些顶点的值给更新</text>
<text class="m" x="1042" y="630.4">23.那这就完成了第1轮的处理，接下来第2轮的处理其实和第1轮是一模一样的</text>
<text class="m" x="1042" y="658.4">24.我们还是要从暂时还没有加入的这些顶点当中挑选出一个加入的代价lowCost最低的顶点</text>
<text class="m" x="1042" y="686.3">25.那显然V2和V5都是满足的，但是如果我们是从头到尾来扫描这些元素的话，那V2应该是第1个被挑选的,因此我们接下来会把V2加入到这个树里边</text>
<text class="m" x="1042" y="714.3">26.那接下来处理还是一样的，我们还需要把所有的这些顶点都循环扫描一遍</text>
<text class="m" x="1042" y="742.2">27.如果说一个顶点此时还没有加入这棵树里，那我们可以检查一下这个顶点和新加入的顶点V2之间有没有边</text>
<text class="m" x="1042" y="771">28.如果它们之间有边，并且这个边的权值要比以前的lowCost值更低的话，那我们就需要更新lowCost值</text>
<text class="m" x="1042" y="795.7">29.那剩下这3个顶点当中只有V5这个顶点和新加入的V2是有边相连的，权值是2</text>
<text class="m" x="1042" y="823.7">30.那2小于4，所以我们需要把它的lowCost值从4变为2，也就是这样的</text>
<text class="m" x="1042" y="851.6">31.再往后是一样的，第3轮循环，我们挑中的应该是V5这个点，所以我们把V5加入，并且更新lowCost值</text>
<text class="m" x="1042" y="879.6">32.接下来第4轮循环，我们挑中的是V1这个顶点，那把V1加入，并且更新lowCost值</text>
<text class="m" x="1042" y="907.5">33.最后一轮循环就只剩下V4，所以我们再把V4加入</text>
<text class="m" x="1042" y="935.5">34.那算法的大致执行就是这样的，有能力的同学可以自己动手实现一遍，但是在初试这个阶段，我们先不展开，先把这个问题简化</text>
<text class="m" x="1042" y="963.5">35.现在我们再来回头理解为什么这个算法的时间复杂度是O(V的平方)这样的一个量级</text>
<text class="m" x="1042" y="991.4">36.那刚才我们进行了好几轮的处理，从代码角度来说就是好几轮的循环</text>
<text class="m" x="1042" y="1019.4">37.那由于每一轮的循环都会选择一个新的顶点，把它放到我们正在构建的这个树里</text>
<text class="m" x="1042" y="1047.3">38.那总共有n个顶点，就需要n- 1轮的循环,而每一轮的处理当中，又需要进行2次循环遍历,遍历所有的结点来处理它们的lowCost</text>
<text class="m" x="1042" y="1075.3">39.所以每一轮的处理时间复杂度就是O(2n)这样的一个数量级，那可以舍弃常数项，也就是O(n)这样的一个量级</text>
<text class="m" x="1042" y="1103.3">40.那总共n-1轮的循环，所以总的时间复杂度就应该是O(n方)，也就是O(v方)这么多</text>
</g>
</svg>
